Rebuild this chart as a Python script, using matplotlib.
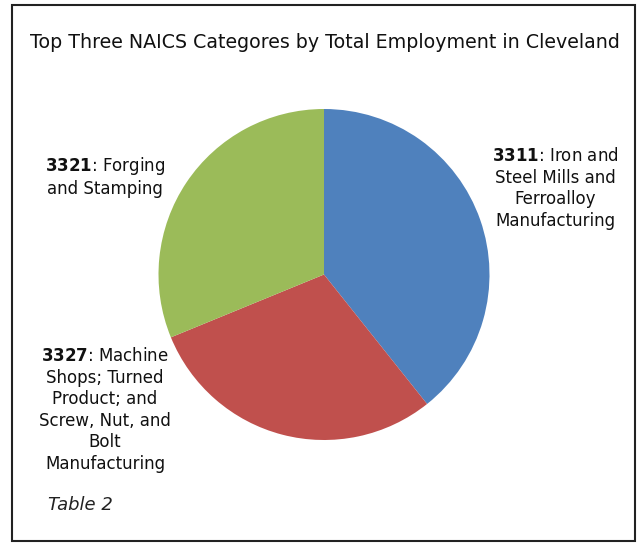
"""Pie chart: top three NAICS categories by total employment in Cleveland."""

import matplotlib

matplotlib.use("Agg")
import matplotlib.pyplot as plt
from matplotlib.patches import Rectangle

W, H = 637, 543  # figure size in pixels (dpi 100)

labels = [
    r"$\mathbf{3311}$: Iron and" "\nSteel Mills and\nFerroalloy\nManufacturing",
    r"$\mathbf{3327}$: Machine" "\nShops; Turned\nProduct; and\nScrew, Nut, and\nBolt\nManufacturing",
    r"$\mathbf{3321}$: Forging" "\nand Stamping",
]
shares = [39.3, 29.5, 31.2]
colors = ["#4F81BD", "#C0504D", "#9BBB59"]

plt.rcParams["font.family"] = ["DejaVu Sans"]
plt.rcParams["mathtext.fontset"] = "dejavusans"

fig = plt.figure(figsize=(W / 100, H / 100), dpi=100)
ax = fig.add_axes([0, 0, 1, 1])

# pie in pixel coordinates, y measured upward
ax.pie(
    shares, colors=colors, startangle=90, counterclock=False,
    center=(324, H - 274.5), radius=165.5,
    wedgeprops=dict(linewidth=0),
)
ax.set_xlim(0, W)
ax.set_ylim(0, H)
ax.set_aspect("auto")
ax.axis("off")

# outer frame
ax.add_patch(Rectangle((12, H - 541), 623, 536, fill=False,
                       edgecolor="#222222", linewidth=1.5))

ax.text(325, H - 42, "Top Three NAICS Categores by Total Employment in Cleveland",
        ha="center", va="center", fontsize=13.7, color="#111111")

label_pos = [(555, H - 188.5), (105, H - 410), (105, H - 176.5)]
for text, (x, y) in zip(labels, label_pos):
    ax.text(x, y, text, ha="center", va="center", fontsize=12,
            color="#111111", linespacing=1.26)

ax.text(48, H - 505, "Table 2", ha="left", va="center", fontsize=13,
        style="italic", color="#222222")

fig.savefig("out.png", dpi=100)
